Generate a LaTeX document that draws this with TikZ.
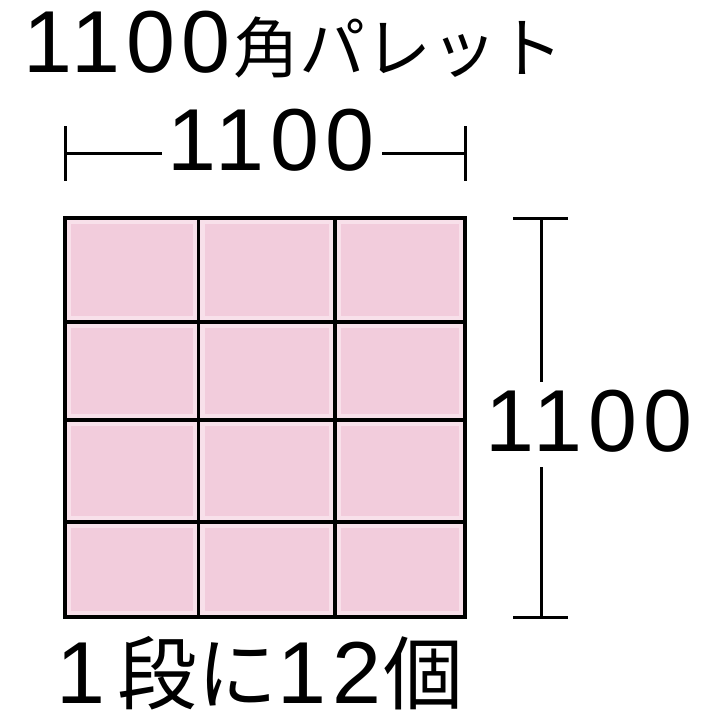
\documentclass[tikz,border=0pt]{standalone}
\usepackage{fontspec}
\setmainfont{Liberation Sans}[LetterSpace=7]
\newfontfamily\jpfont{Noto Sans CJK JP}
\definecolor{cellpink}{HTML}{F2CCDC}
\definecolor{cellrim}{HTML}{F8E0EA}
\tikzset{
  gridline/.style={line width=3.6pt, draw=black},
  dimline/.style={line width=3pt, draw=black},
  dimtext/.style={inner sep=0pt, font=\fontsize{88}{88}\selectfont},
  titletext/.style={inner sep=0pt, anchor=base west},
}
\newcommand{\dg}[1]{{\fontsize{88}{88}\selectfont #1}}
\newcommand{\jp}[2]{{\jpfont\fontsize{#1}{#1}\selectfont #2}}
\begin{document}
\begin{tikzpicture}[x=1pt,y=-1pt]
\useasboundingbox (0,0) rectangle (713,713);
% title
\node[titletext] (title) at (23,72) {\dg{1100}\hspace{3pt}\jp{66}{角パレット}};
% grid cells
\foreach \xa/\xb in {65/198.5,198.5/335,335/465}{
  \foreach \ya/\yb in {218/322,322/420,420/522,522/617}{
    \fill[cellrim] (\xa,\ya) rectangle (\xb,\yb);
    \fill[cellpink] (\xa+6,\ya+6) rectangle (\xb-6,\yb-6);
  }
}
\foreach \xx in {198.5,335}{\draw[gridline] (\xx,218) -- (\xx,617);}
\foreach \yy in {322,420,522}{\draw[gridline] (65,\yy) -- (465,\yy);}
\draw[gridline] (65,218) rectangle (465,617);
% horizontal dimension
\coordinate (hl) at (65,153);
\coordinate (hr) at (465,153);
\coordinate (hlin) at (162,153);
\coordinate (hrin) at (382,153);
\node[dimtext] (htext) at (271,140) {1100};
\draw[dimline] ([yshift=-27.5]hl) -- ([yshift=27.5]hl);
\draw[dimline] ([yshift=-27.5]hr) -- ([yshift=27.5]hr);
\draw[dimline] (hl) -- (hlin);
\draw[dimline] (hr) -- (hrin);
% vertical dimension
\coordinate (vt) at (541,218);
\coordinate (vb) at (541,617);
\coordinate (vtin) at (541,382);
\coordinate (vbin) at (541,467);
\node[dimtext] (vtext) at (589,421.5) {1100};
\draw[dimline] ([xshift=-28]vt) -- ([xshift=27]vt);
\draw[dimline] ([xshift=-28]vb) -- ([xshift=27]vb);
\draw[dimline] (vt) -- (vtin);
\draw[dimline] (vbin) -- (vb);
% bottom text
\node[titletext] (bottom) at (56,703) {\dg{1}\hspace{12pt}\jp{80}{段に}\dg{12}\hspace{2pt}\jp{80}{個}};
\end{tikzpicture}
\end{document}
